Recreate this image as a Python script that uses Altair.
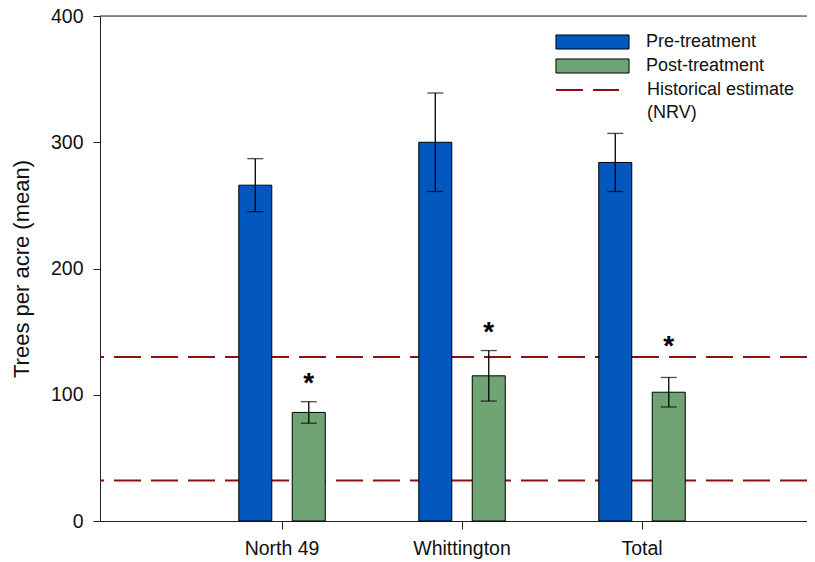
import altair as alt
import pandas as pd

# ---- data ----
sites = ["North 49", "Whittington", "Total"]
treatments = ["Pre-treatment", "Post-treatment"]
pre_mean = [266, 300, 284]
pre_se = [21, 39, 23]
post_mean = [86, 115, 102]
post_se = [8.5, 20, 11.7]
asterisk_y = [111, 151, 140]
nrv_bounds = [32, 130]
nrv_label = "Historical estimate (NRV)"
y_ticks = [0, 100, 200, 300, 400]

rows = []
for i, s in enumerate(sites):
    rows.append(dict(site=s, treatment=treatments[0], mean=pre_mean[i],
                     lo=pre_mean[i] - pre_se[i], hi=pre_mean[i] + pre_se[i]))
    rows.append(dict(site=s, treatment=treatments[1], mean=post_mean[i],
                     lo=post_mean[i] - post_se[i], hi=post_mean[i] + post_se[i]))
bars_df = pd.DataFrame(rows)
star_df = pd.DataFrame(dict(site=sites, treatment=[treatments[1]] * 3, y=asterisk_y))
nrv_df = pd.DataFrame(dict(y=nrv_bounds, kind=[nrv_label] * 2))
top_df = pd.DataFrame(dict(y=[y_ticks[-1]]))

BLUE = "#0258BE"
GREEN = "#70A475"
RED = "#8E1010"
FONT = "Liberation Sans"

x_enc = alt.X("site:N", sort=sites,
              scale=alt.Scale(paddingInner=0, paddingOuter=0.464, align=0.551),
              axis=alt.Axis(title=None, labelAngle=0, labelFontSize=19.5, tickSize=8,
                            labelPadding=10, domainColor="#222", tickColor="#222",
                            labelColor="#111"))
xoff = alt.XOffset("treatment:N", sort=treatments,
                   scale=alt.Scale(paddingInner=0.383, paddingOuter=0.874))
y_scale = alt.Scale(domain=[0, 400], nice=False)

nrv = alt.Chart(nrv_df).mark_rule(color=RED, strokeWidth=2).encode(
    y=alt.Y("y:Q", scale=y_scale),
    strokeDash=alt.StrokeDash(
        "kind:N", scale=alt.Scale(domain=[nrv_label], range=[[27, 10]]),
        legend=alt.Legend(title=None, orient="none", legendX=455, legendY=41.5,
                          symbolType="stroke", symbolSize=3969, symbolStrokeColor=RED,
                          symbolStrokeWidth=2, labelFontSize=18, labelOffset=27,
                          labelFont=FONT, labelColor="#111", padding=0,
                          labelExpr="['Historical estimate', '(NRV)']",
                          labelLimit=300)),
)

top_line = alt.Chart(top_df).mark_rule(color="#222", strokeWidth=1).encode(
    y=alt.Y("y:Q", scale=y_scale))

bars = alt.Chart(bars_df).mark_bar(stroke="black", strokeWidth=1).encode(
    x=x_enc, xOffset=xoff,
    y=alt.Y("mean:Q", scale=y_scale,
            axis=alt.Axis(values=y_ticks, title="Trees per acre (mean)", grid=False,
                          labelFontSize=19.5, titleFontSize=22, titleFontWeight="normal",
                          tickSize=7, labelPadding=10, titlePadding=17,
                          domainColor="#222", tickColor="#222", labelColor="#111",
                          titleColor="#111")),
    color=alt.Color("treatment:N", sort=treatments,
                    scale=alt.Scale(domain=treatments, range=[BLUE, GREEN]),
                    legend=alt.Legend(title=None, orient="none", legendX=483, legendY=16.5,
                                      symbolType="M-4.06,-0.78H4.06V0.78H-4.06Z",
                                      symbolSize=324, symbolStrokeColor="black",
                                      symbolStrokeWidth=1, symbolOpacity=1,
                                      labelFontSize=18, labelOffset=44, rowPadding=5,
                                      labelFont=FONT, labelColor="#111", padding=0)),
)

whisk = alt.Chart(bars_df).mark_rule(color="black", strokeWidth=1.3).encode(
    x=x_enc, xOffset=xoff, y=alt.Y("lo:Q", scale=y_scale), y2="hi:Q")
cap_hi = alt.Chart(bars_df).mark_tick(color="black", size=16, thickness=1.3,
                                      orient="horizontal").encode(
    x=x_enc, xOffset=xoff, y=alt.Y("hi:Q", scale=y_scale))
cap_lo = alt.Chart(bars_df).mark_tick(color="black", size=16, thickness=1.3,
                                      orient="horizontal").encode(
    x=x_enc, xOffset=xoff, y=alt.Y("lo:Q", scale=y_scale))

stars = alt.Chart(star_df).mark_text(text="*", fontSize=28, fontWeight="bold",
                                     baseline="alphabetic", dy=11, font=FONT,
                                     color="black").encode(
    x=x_enc, xOffset=xoff, y=alt.Y("y:Q", scale=y_scale))

chart = alt.layer(nrv, top_line, bars, whisk, cap_hi, cap_lo, stars).properties(
    width=707, height=505,
    autosize=alt.AutoSizeParams(type="none"),
    padding={"left": 92, "top": 8, "right": 0, "bottom": 41},
).configure_view(strokeWidth=0).configure_axis(
    labelFont=FONT, titleFont=FONT
).configure(background="white", style={"guide-label": {"lineHeight": 23}})

chart.save("out.html", embed_options={"renderer": "svg", "actions": False})
